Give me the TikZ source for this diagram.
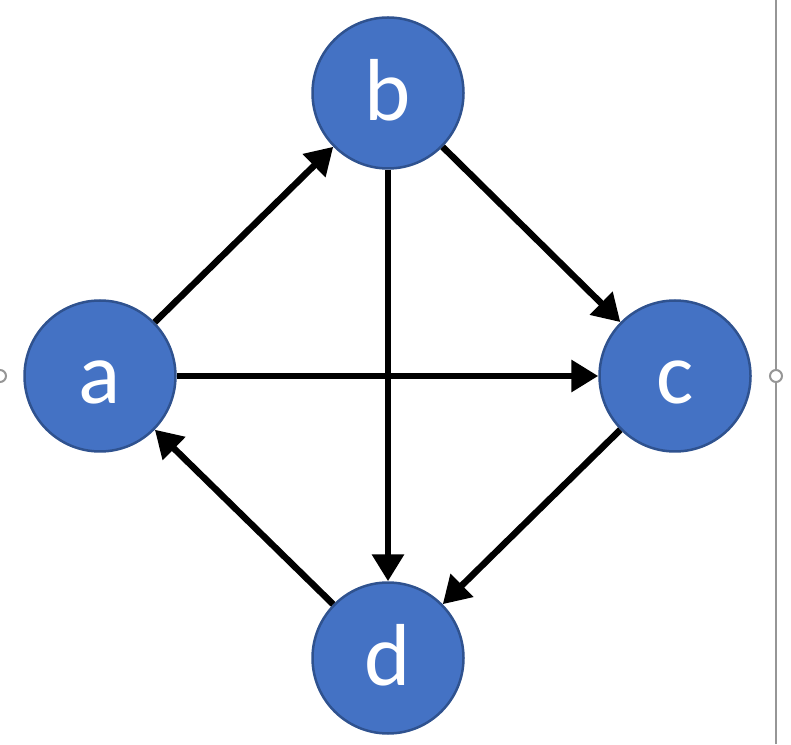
\documentclass[tikz,border=0pt]{standalone}
\usepackage{fontspec}
\setmainfont{Carlito}
\usepackage{tikz}
\usetikzlibrary{arrows.meta}
\definecolor{vertexFill}{RGB}{68, 114, 196}
\definecolor{vertexLine}{RGB}{47, 82, 143}
\definecolor{handleGray}{RGB}{150, 150, 150}

\begin{document}
\begin{tikzpicture}[x=1pt, y=1pt,
  vertex/.style={circle, fill=vertexFill, draw=vertexLine, line width=2.5pt,
    minimum size=151pt, inner sep=0pt, text=white,
    font=\fontsize{88}{88}\selectfont, text height=55pt, text depth=0pt},
  edge/.style={-{Triangle[length=27pt, width=31pt]}, line width=6.5pt}]
  \useasboundingbox (0,0) rectangle (791,744);

  % Selection frame at the right edge
  \draw[handleGray, line width=1.5pt] (776,0) -- (776,744);
  \draw[handleGray, line width=2pt, fill=white] (776,368) circle (6);
  \draw[handleGray, line width=2pt, fill=white] (0,368) circle (6);

  % Vertices
  \node[vertex] (a) at (100, 368) {a};
  \node[vertex] (b) at (388, 651) {b};
  \node[vertex] (c) at (675, 368) {c};
  \node[vertex] (d) at (388, 86) {d};

  % Directed edges
  \draw[edge] (a) -- (b);
  \draw[edge] (a) -- (c);
  \draw[edge] (b) -- (c);
  \draw[edge] (b) -- (d);
  \draw[edge] (c) -- (d);
  \draw[edge] (d) -- (a);
\end{tikzpicture}
\end{document}
